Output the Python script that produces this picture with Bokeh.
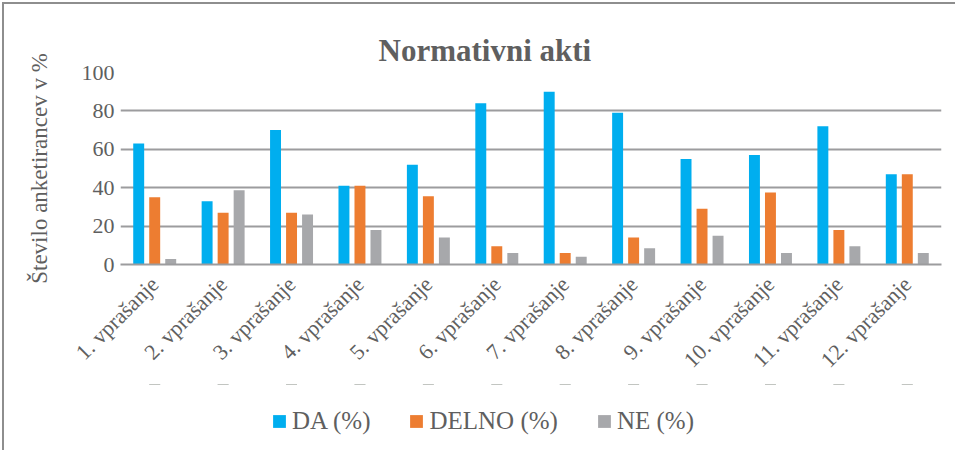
import math
from bokeh.plotting import figure
from bokeh.layouts import column
from bokeh.models import ColumnDataSource, FactorRange, Legend, LegendItem, Range1d
from bokeh.transform import dodge
from bokeh.embed import file_html
from bokeh.resources import INLINE

categories = ["1. vprašanje", "2. vprašanje", "3. vprašanje", "4. vprašanje",
              "5. vprašanje", "6. vprašanje", "7. vprašanje", "8. vprašanje",
              "9. vprašanje", "10. vprašanje", "11. vprašanje", "12. vprašanje"]
da = [63, 33, 70, 41, 52, 84, 90, 79, 55, 57, 72, 47]
delno = [35, 27, 27, 41, 35.5, 9.5, 6, 14, 29, 37.5, 18, 47]
ne = [2.8, 38.7, 26, 18, 14, 6, 4, 8.5, 15, 6, 9.5, 6]
series_names = ["DA (%)", "DELNO (%)", "NE (%)"]
series_cols = ["da", "delno", "ne"]
y_ticks = [0, 20, 40, 60, 80, 100]

colors = ["#00AEEF", "#ED7D31", "#A7A8AB"]
text_color = "#5f5f5f"
grid_color = "#9c9c9e"
font = "Liberation Serif"

source = ColumnDataSource(dict(q=categories, da=da, delno=delno, ne=ne))

W = 951
p = figure(x_range=FactorRange(*categories, range_padding=0),
           y_range=Range1d(0, 100),
           width=W, height=370,
           frame_width=821, frame_height=192,
           min_border_left=116, min_border_right=14,
           min_border_top=68, min_border_bottom=110,
           output_backend="svg", toolbar_location=None)

p.title.text = "Normativni akti"
p.title.text_font = font
p.title.text_font_style = "bold"
p.title.text_font_size = "31px"
p.title.text_line_height = 0.9
p.title.text_color = text_color
p.title.align = "left"
p.title.offset = 258
p.title.standoff = 10

renderers = []
for col, off, c in zip(series_cols, [-0.234, 0.0, 0.234], colors):
    r = p.vbar(x=dodge("q", off, range=p.x_range), top=col, width=0.16,
               source=source, fill_color=c, line_color=None)
    renderers.append(r)

p.outline_line_color = None
p.background_fill_color = "white"
p.border_fill_color = "white"

p.xgrid.grid_line_color = None
p.ygrid.grid_line_color = grid_color
p.ygrid.grid_line_width = 2
p.yaxis.ticker = y_ticks

p.yaxis.axis_line_color = None
p.yaxis.major_tick_line_color = None
p.yaxis.minor_tick_line_color = None
p.yaxis.major_label_text_font = font
p.yaxis.major_label_text_font_size = "22px"
p.yaxis.major_label_text_color = text_color
p.yaxis.major_label_standoff = 0
p.yaxis.axis_label = "Število anketirancev v %"
p.yaxis.axis_label_text_font = font
p.yaxis.axis_label_text_font_size = "23px"
p.yaxis.axis_label_text_font_style = "normal"
p.yaxis.axis_label_text_color = text_color
p.yaxis.axis_label_standoff = 27

p.xaxis.axis_line_color = grid_color
p.xaxis.axis_line_width = 2
p.xaxis.major_tick_line_color = None
p.xaxis.minor_tick_line_color = None
p.xaxis.major_label_orientation = math.pi / 4
p.xaxis.major_label_text_font = font
p.xaxis.major_label_text_font_size = "22px"
p.xaxis.major_label_text_color = text_color
p.xaxis.major_label_standoff = 10

# legend strip below the chart (its bars lie outside its visible range; only the legend shows)
p2 = figure(x_range=FactorRange(*categories), y_range=Range1d(-2, -1),
            width=W, height=70,
            min_border_left=0, min_border_right=0, min_border_top=0, min_border_bottom=0,
            x_axis_location=None, y_axis_location=None,
            output_backend="svg", toolbar_location=None)
p2.outline_line_color = None
p2.grid.visible = False
p2.border_fill_color = "white"
legend_renderers = [p2.vbar(x="q", top=col, width=0.16, source=source,
                            fill_color=c, line_color=None)
                    for col, c in zip(series_cols, colors)]

legend = Legend(items=[LegendItem(label=n, renderers=[r]) for n, r in zip(series_names, legend_renderers)],
                orientation="horizontal", location=(151, 19))
legend.padding = 0
legend.margin = 0
legend.spacing = 38
legend.label_standoff = 5
legend.glyph_width = 16
legend.glyph_height = 16
legend.label_height = 25
legend.label_text_font = font
legend.label_text_font_size = "25px"
legend.label_text_color = text_color
legend.border_line_color = None
legend.background_fill_alpha = 0
p2.add_layout(legend, "center")

layout = column(p, p2, spacing=0)
layout.styles = {"border-left": "2px solid #8e8e8e", "border-top": "2px solid #8e8e8e",
                 "margin": "2px 0 0 2px"}

open("out.html", "w").write(file_html(layout, INLINE))
